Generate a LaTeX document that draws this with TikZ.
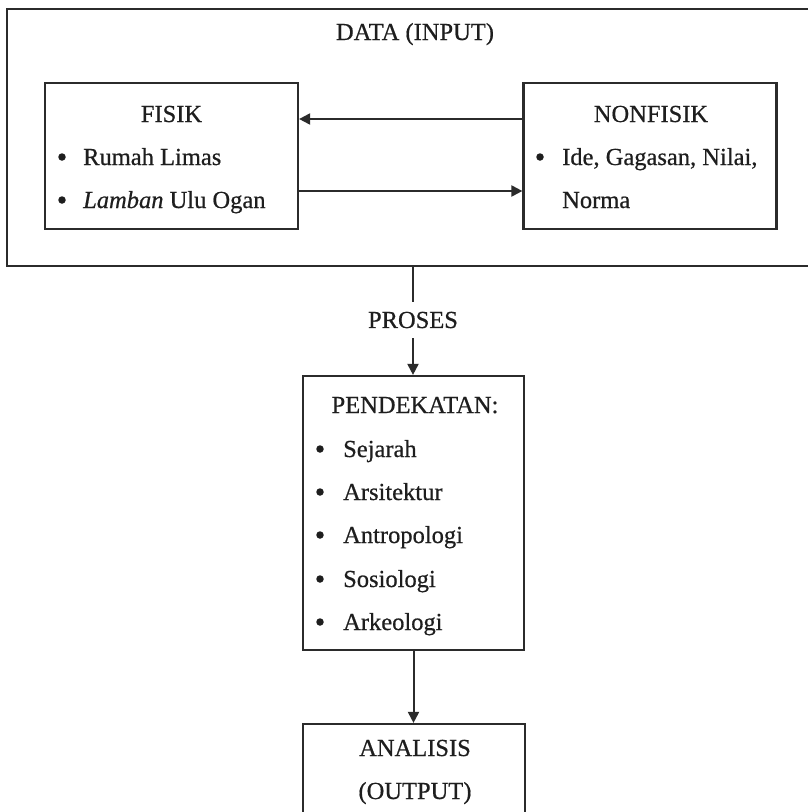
\documentclass[tikz,border=0pt]{standalone}
\usepackage{fontspec}
\setmainfont{Liberation Serif}[FakeBold=0.6]
\usetikzlibrary{arrows.meta}
\definecolor{lc}{HTML}{2B2B2B}
\definecolor{tc}{HTML}{1E1E1E}
\begin{document}
\begin{tikzpicture}[x=1pt,y=-1pt,
  boxn/.style={draw=lc, line width=2.2pt, inner sep=0pt, minimum width=#1},
  txt/.style={font=\fontsize{24.5}{28}\selectfont, text=tc, inner sep=0pt},
  dot/.style={circle, fill=tc, inner sep=0pt, minimum size=7.5pt},
  arr/.style={draw=lc, line width=2pt, -{Triangle[length=11pt,width=11pt]}},
  conn/.style={draw=lc, line width=1.8pt}]
\useasboundingbox (0,0) rectangle (807,812);
\fill[white] (0,0) rectangle (807,812);
% boxes
\node[boxn=808pt, minimum height=257pt] (data) at (411,137.5) {};
\node[boxn=253pt, minimum height=146pt] (fisik) at (171.5,156) {};
\node[boxn=253pt, minimum height=146pt] (nonfisik) at (650,156) {};
\node[boxn=221pt, minimum height=274pt] (pend) at (413.5,513) {};
\node[boxn=222pt, minimum height=110pt] (anal) at (414,779) {};
% texts
\node[txt, anchor=base] (tdata) at (415,40) {DATA (INPUT)};
\node[txt, anchor=base] (tfisik) at (171.5,122) {FISIK};
\node[dot] (b1) at (62,157) {};
\node[txt, anchor=base west] (f1) at (83,165) {Rumah Limas};
\node[dot] (b2) at (62,200) {};
\node[txt, anchor=base west] (f2) at (83,208) {\textit{Lamban} Ulu Ogan};
\node[txt, anchor=base] (tnon) at (651,122) {NONFISIK};
\node[dot] (b3) at (540,157) {};
\node[txt, anchor=base west] (n1) at (562,165) {Ide, Gagasan, Nilai,};
\node[txt, anchor=base west] (n2) at (562,208) {Norma};
\node[txt, minimum height=36pt] (proses) at (413,320) {PROSES};
\node[txt, anchor=base] (tpend) at (415,413) {PENDEKATAN:};
\foreach \y/\t [count=\i] in {457/Sejarah,500/Arsitektur,543/Antropologi,587/Sosiologi,630/Arkeologi}{
  \node[dot] (pb\i) at (320,\y-8) {};
  \node[txt, anchor=base west] (pt\i) at (343,\y) {\t};
}
\node[txt, anchor=base] (tanal1) at (415,756) {ANALISIS};
\node[txt, anchor=base] (tanal2) at (415,799) {(OUTPUT)};
% connectors
\coordinate (ya) at (0,119);
\coordinate (yb) at (0,191);
\draw[arr] (nonfisik.west |- ya) -- (fisik.east |- ya);
\draw[arr] (fisik.east |- yb) -- (nonfisik.west |- yb);
\draw[conn] (data.south -| proses.north) -- (proses.north);
\draw[arr] (proses.south) -- (proses.south |- pend.north);
\draw[arr] (pend.south) -- (pend.south |- anal.north);
\end{tikzpicture}
\end{document}
